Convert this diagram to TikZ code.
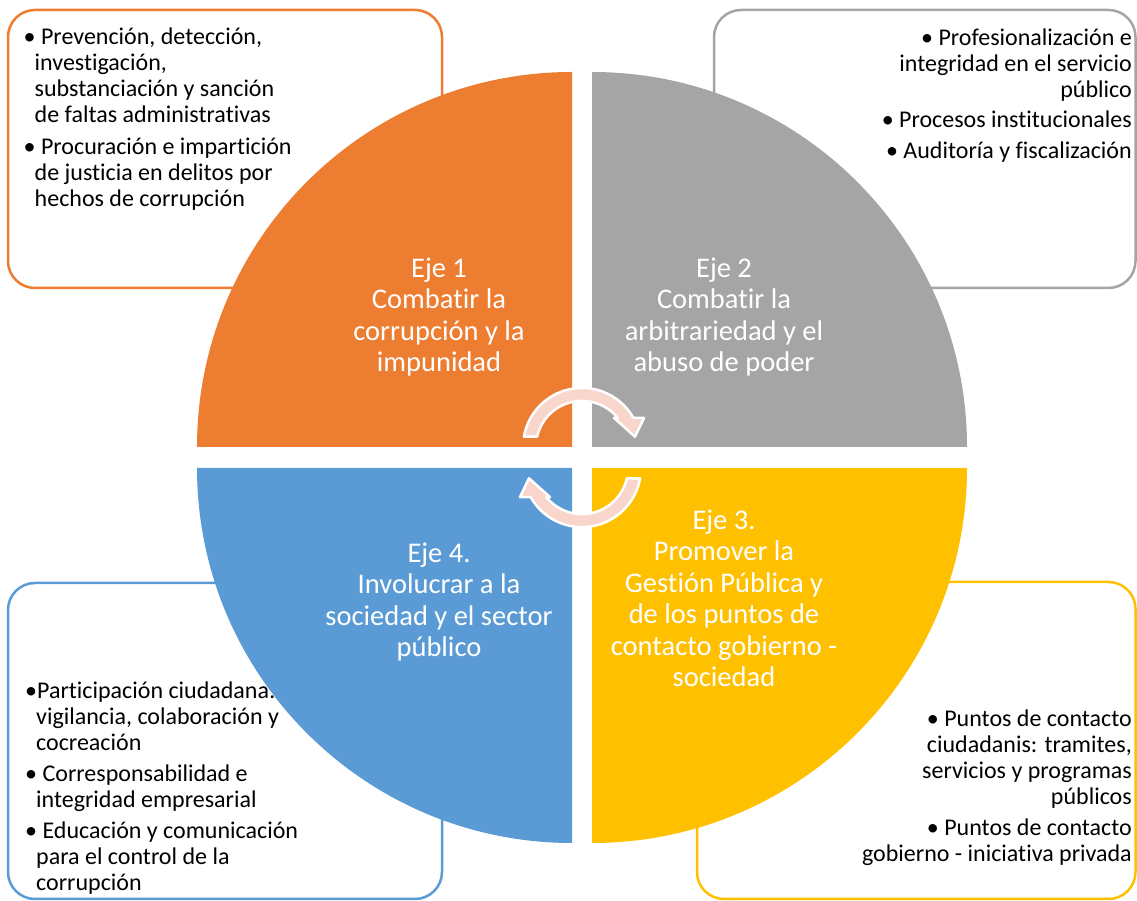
\documentclass[tikz,border=0pt]{standalone}
\usepackage{fontspec}
\setmainfont{Carlito}[Ligatures=NoCommon]
\usetikzlibrary{calc}
\definecolor{ejeuno}{RGB}{237,125,49}
\definecolor{ejedos}{RGB}{165,165,165}
\definecolor{ejetres}{RGB}{255,192,0}
\definecolor{ejecuatro}{RGB}{91,155,213}
\definecolor{flechafill}{RGB}{248,214,203}
\newcommand{\sangria}{\hspace*{11pt}}
\tikzset{
    caja/.style={line width=2.5pt, rounded corners=27pt},
    lista/.style={inner sep=0pt, font=\fontsize{24}{26}\selectfont, text=black},
    titulo/.style={inner sep=0pt, align=center, text=white, font=\fontsize{28.5}{31.5}\selectfont},
    flecha/.style={fill=flechafill, draw=white, line width=2.5pt, line join=round}
}

\begin{document}
\begin{tikzpicture}[x=1pt, y=1pt]

    \useasboundingbox (0,0) rectangle (1137,901);

    \draw[caja, draw=ejeuno] (8,613) rectangle (442,891);
    \draw[caja, draw=ejedos] (714,613) rectangle (1135.5,891);
    \draw[caja, draw=ejetres] (697,2) rectangle (1135.5,319);
    \draw[caja, draw=ejecuatro] (8,2) rectangle (442,318);


    \node[lista, align=left, anchor=north west] (T1) at (23.5,875.2) {\strut• Prevención, detección,\\ \sangria investigación,\\ \sangria substanciación y sanción\\ \sangria de faltas administrativas\\[6pt] • Procuración e impartición\\ \sangria de justicia en delitos por\\ \sangria hechos de corrupción};
    \node[lista, align=right, anchor=north east] (T2) at (1132,873.5) {\strut• Profesionalización e\\ integridad en el servicio\\ público\\[4pt] • Procesos institucionales\\[5pt] • Auditoría y fiscalización};
    \node[lista, align=right, anchor=north east] (T3) at (1132,192.5) {\strut• Puntos de contacto\\ ciudadanis: tramites,\\ servicios y programas\\ públicos\\[5pt] • Puntos de contacto\\ gobierno - iniciativa privada};
    \node[lista, align=left, anchor=north west] (T4) at (25,220.9) {\strut•Participación ciudadana:\\ \sangria vigilancia, colaboración y\\ \sangria cocreación\\[5pt] • Corresponsabilidad e\\ \sangria integridad empresarial\\[5pt] • Educación y comunicación\\ \sangria para el control de la\\ \sangria corrupción};

    % cuadrantes del circulo
    \foreach \col/\cx/\cy/\ang in {ejeuno/572/454/90, ejedos/592/454/0, ejetres/592/433/-90, ejecuatro/572/433/180}{
            \fill[\col] (\cx,\cy) -- ++(\ang+90:375) arc[start angle=\ang+90, end angle=\ang, radius=375pt] -- cycle;
        }

    \node[titulo, anchor=north] (E1) at (439,646) {\strut Eje 1\\ Combatir la\\ corrupción y la\\ impunidad};
    \node[titulo, anchor=north] (E2) at (724,646) {\strut Eje 2\\ Combatir la\\ arbitrariedad y el\\ abuso de poder};
    \node[titulo, anchor=north] (E3) at (724,394) {\strut Eje 3.\\ Promover la\\ Gestión Pública y\\ de los puntos de\\ contacto gobierno -\\ sociedad};
    \node[titulo, anchor=north] (E4) at (439,361) {\strut Eje 4.\\ Involucrar a la\\ sociedad y el sector\\ público};

    % flechas circulares
    \foreach \giro in {0,180}{
            \begin{scope}[shift={(582,443.5)}, rotate=\giro, shift={(0,10.6)}]
                \path[flecha] (170:59) arc[start angle=170, end angle=29.4, radius=59pt]
                -- (62,29) -- (53,10.2) -- (32,29) -- (39.1:46)
                arc[start angle=39.1, end angle=167.2, radius=46pt] -- cycle;
            \end{scope}
        }

\end{tikzpicture}
\end{document}
